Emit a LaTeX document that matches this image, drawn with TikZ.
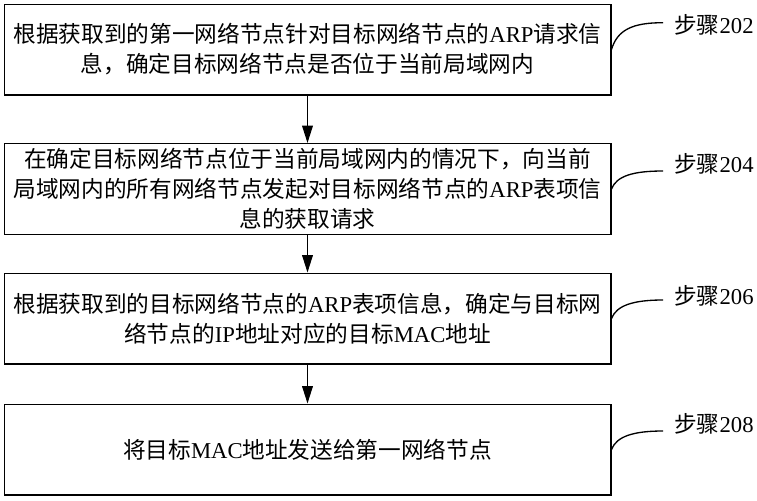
\documentclass[tikz,border=0pt]{standalone}
\usepackage{fontspec}
\setmainfont{Noto Sans CJK SC}
\newfontfamily\latinfont{Liberation Serif}
\newcommand{\en}[1]{{\latinfont #1}}
\usetikzlibrary{arrows.meta}

\tikzset{
  stepbox/.style={draw, line width=1pt, minimum width=455pt, minimum height=68pt,
    inner sep=0pt, align=center, font=\fontsize{17}{22.5}\selectfont},
  steptag/.style={anchor=west, inner sep=0pt, font=\fontsize{17}{20}\selectfont},
  flow/.style={line width=1pt, -{Triangle[length=13pt,width=8pt]}},
  lead/.style={line width=1pt},
}

\begin{document}
\begin{tikzpicture}[x=0.75pt, y=-0.75pt]

\useasboundingbox (0,0) rectangle (757,500);

\node[stepbox] (b1) at (307.5,49.5) {根据获取到的第一网络节点针对目标网络节点的\en{ARP}请求信\\息，确定目标网络节点是否位于当前局域网内};
\node[stepbox] (b2) at (307.5,189) {在确定目标网络节点位于当前局域网内的情况下，向当前\\局域网内的所有网络节点发起对目标网络节点的\en{ARP}表项信\\息的获取请求};
\node[stepbox] (b3) at (307.5,318.5) {根据获取到的目标网络节点的\en{ARP}表项信息，确定与目标网\\络节点的\en{IP}地址对应的目标\en{MAC}地址};
\node[stepbox] (b4) at (307.5,449.5) {将目标\en{MAC}地址发送给第一网络节点};

\draw[flow] (b1) -- (b2);
\draw[flow] (b2) -- (b3);
\draw[flow] (b3) -- (b4);

\node[steptag] (t1) at (674,25) {步骤\en{202}};
\node[steptag] (t2) at (674,164) {步骤\en{204}};
\node[steptag] (t3) at (674,296) {步骤\en{206}};
\node[steptag] (t4) at (674,424) {步骤\en{208}};

\coordinate (c1) at (663,22.7);
\coordinate (c2) at (663,171);
\coordinate (c3) at (663,300);
\coordinate (c4) at (663,431);

\draw[lead] (b1.east) .. controls +(6,-20) and +(-30,0) .. (c1);
\draw[lead] (b2.east) .. controls +(5,-13) and +(-30,0) .. (c2);
\draw[lead] (b3.east) .. controls +(5,-13) and +(-30,0) .. (c3);
\draw[lead] (b4.east) .. controls +(5,-13) and +(-30,0) .. (c4);

\end{tikzpicture}
\end{document}
